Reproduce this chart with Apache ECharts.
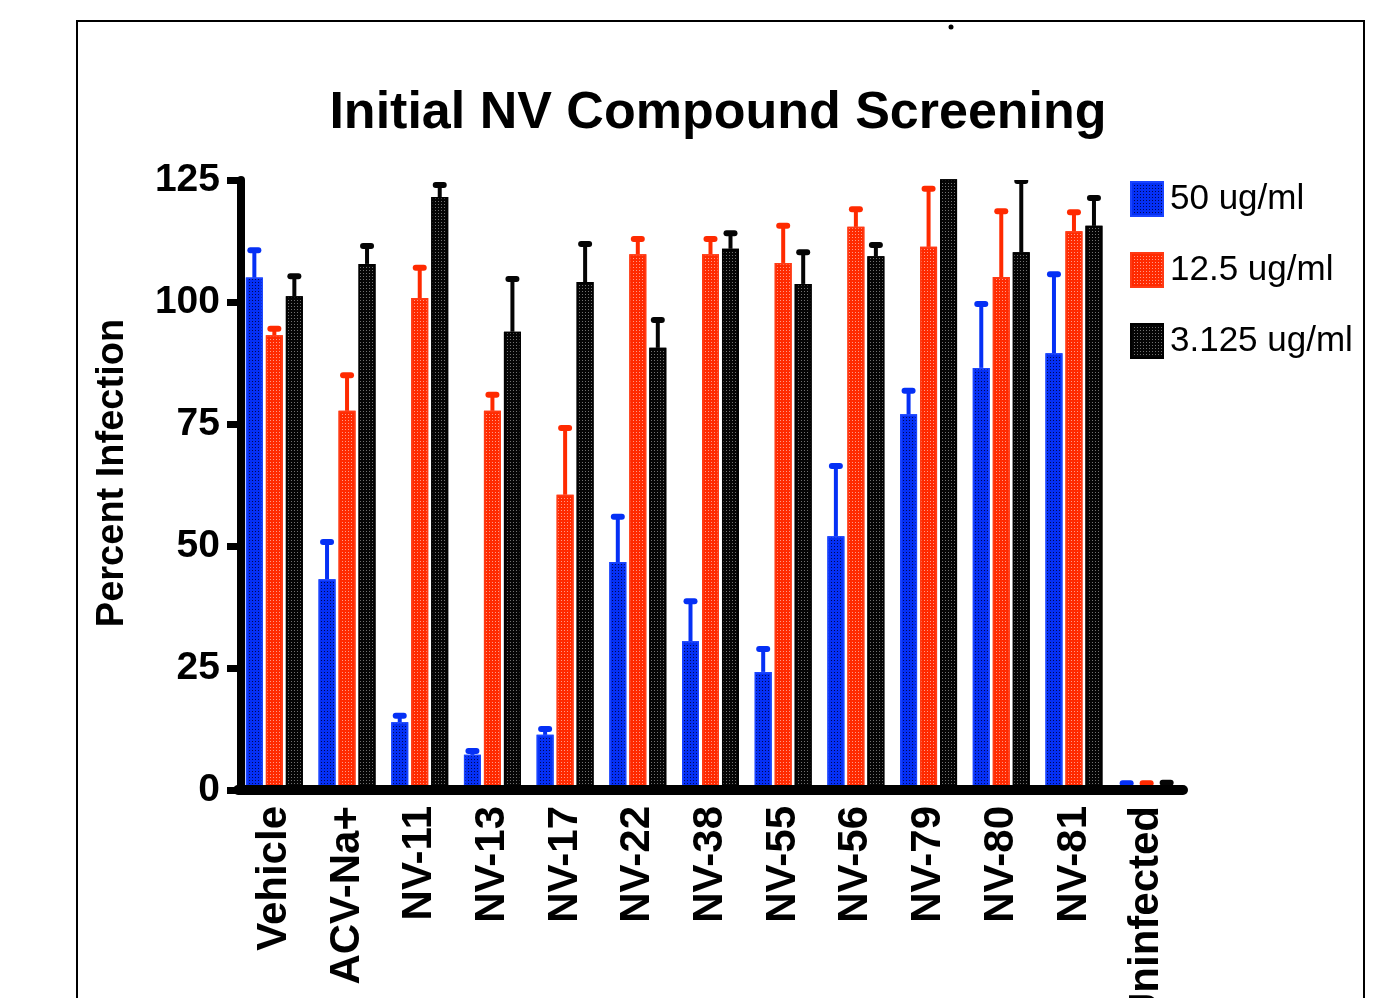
<!DOCTYPE html>
<html>
<head>
<meta charset="utf-8">
<script src="https://cdn.jsdelivr.net/npm/echarts@6/dist/echarts.min.js"></script>
<style>
html,body{margin:0;padding:0;background:#fff;}
#chart{width:1380px;height:998px;}
</style>
</head>
<body>
<div id="chart"></div>
<script>
// ---- data ----
var categories = ['Vehicle','ACV-Na+','NV-11','NV-13','NV-17','NV-22','NV-38','NV-55','NV-56','NV-79','NV-80','NV-81','Uninfected'];
var seriesNames = ['50 ug/ml','12.5 ug/ml','3.125 ug/ml'];
var mean50  = [105.0, 43.2, 13.9, 7.2, 11.3, 46.7, 30.5, 24.2, 52.0, 77.0, 86.5, 89.5, 0.7];
var err50   = [5.6, 7.6, 1.3, 0.8, 1.2, 9.3, 8.2, 4.7, 14.4, 4.8, 13.1, 16.2, 0.7];
var mean12  = [93.2, 77.7, 100.8, 77.7, 60.5, 109.8, 109.8, 108.0, 115.4, 111.3, 105.1, 114.5, 0.7];
var err12   = [1.3, 7.3, 6.2, 3.3, 13.7, 3.1, 3.1, 7.6, 3.6, 11.9, 13.5, 3.9, 0.7];
var mean3   = [101.2, 107.8, 121.5, 93.9, 104.1, 90.6, 110.9, 103.7, 109.4, 128.0, 110.2, 115.6, 0.8];
var err3    = [4.1, 3.7, 2.5, 10.8, 7.8, 5.7, 3.2, 6.5, 2.3, 4.0, 14.6, 5.7, 0.7];
var yTicks = [0, 25, 50, 75, 100, 125];

var colors = ['#0530f5', '#ff2a00', '#050505'];
var borders = ['#1a44ff', '#ff3a14', '#000000'];
var dotColors = ['rgba(0,0,60,0.85)', 'rgba(255,190,180,0.75)', 'rgba(140,140,140,0.8)'];
var means = [mean50, mean12, mean3];
var errs = [err50, err12, err3];
var BAR_W = 17, BAR_STEP = 20;

var chart = echarts.init(document.getElementById('chart'), null, {renderer: 'canvas'});

function makeDecal(i) {
  return {symbol: 'rect', symbolSize: 1, dashArrayX: [[1, 2]], dashArrayY: [1, 2], color: dotColors[i]};
}

var series = [];
for (var i = 0; i < 3; i++) {
  series.push({
    name: seriesNames[i],
    type: 'bar',
    data: means[i],
    barWidth: BAR_W,
    barGap: '17.6%',
    z: 2,
    itemStyle: {color: colors[i], borderColor: borders[i], borderWidth: 1.5, decal: makeDecal(i)},
    emphasis: {disabled: true}
  });
}
for (var j = 0; j < 3; j++) {
  (function (k) {
    var d = categories.map(function (c, idx) { return [idx, means[k][idx], means[k][idx] + errs[k][idx]]; });
    series.push({
      name: 'err' + k,
      type: 'custom',
      data: d,
      z: 3,
      clip: true,
      encode: {x: 0, y: [1, 2]},
      renderItem: function (params, api) {
        var idx = api.value(0);
        var lo = api.coord([idx, api.value(1)]);
        var hi = api.coord([idx, api.value(2)]);
        var x = lo[0] + (k - 1) * BAR_STEP;
        return {
          type: 'group',
          children: [
            {type: 'line', shape: {x1: x, y1: lo[1], x2: x, y2: hi[1]}, style: {stroke: colors[k], lineWidth: 4}},
            {type: 'line', shape: {x1: x - 4, y1: hi[1], x2: x + 4, y2: hi[1]}, style: {stroke: colors[k], lineWidth: 6, lineCap: 'round'}}
          ]
        };
      }
    });
  })(j);
}

var option = {
  animation: false,
  backgroundColor: '#ffffff',
  textStyle: {fontFamily: 'Liberation Sans, Arial, sans-serif'},
  title: {
    text: 'Initial NV Compound Screening',
    left: 713, top: 83, textAlign: 'center',
    textStyle: {fontFamily: 'Liberation Sans, Arial, sans-serif', fontWeight: 'bold', fontSize: 52, color: '#000'}
  },
  legend: {
    data: seriesNames,
    orient: 'vertical',
    left: 1125, top: 176,
    itemWidth: 32, itemHeight: 34, itemGap: 35,
    icon: 'rect',
    selectedMode: false,
    textStyle: {fontFamily: 'Liberation Sans, Arial, sans-serif', fontSize: 35, color: '#000', padding: [0, 0, 0, 2]}
  },
  grid: {left: 238, right: 197, top: 180, bottom: 208, containLabel: false, outerBoundsMode: 'none'},
  xAxis: {
    type: 'category',
    data: categories,
    z: 4,
    axisLine: {lineStyle: {color: '#000', width: 10}},
    axisTick: {alignWithLabel: true, length: 16, lineStyle: {color: '#000', width: 9}},
    axisLabel: {rotate: 90, margin: 16, interval: 0, fontFamily: 'Liberation Sans, Arial, sans-serif', fontWeight: 'bold', fontSize: 42, color: '#000'}
  },
  yAxis: {
    type: 'value',
    min: yTicks[0], max: yTicks[yTicks.length - 1], interval: 25,
    offset: -3,
    z: 4,
    splitLine: {show: false},
    axisLine: {show: true, lineStyle: {color: '#000', width: 8}},
    axisTick: {show: true, length: 14, lineStyle: {color: '#000', width: 7}},
    axisLabel: {margin: 21, fontFamily: 'Liberation Sans, Arial, sans-serif', fontWeight: 'bold', fontSize: 39, color: '#000'}
  },
  graphic: [
    {type: 'rect', shape: {x: 77, y: 21, width: 1287, height: 1000}, style: {fill: 'none', stroke: '#000', lineWidth: 2}, z: 0},
    {type: 'circle', shape: {cx: 951, cy: 27, r: 2.5}, style: {fill: '#000'}},
    {type: 'text', x: 113, y: 473, rotation: Math.PI / 2,
     style: {text: 'Percent Infection', fill: '#000', font: 'bold 38px "Liberation Sans", Arial, sans-serif', textAlign: 'center', textVerticalAlign: 'middle'}}
  ],
  series: series
};
chart.setOption(option);
</script>
</body>
</html>
